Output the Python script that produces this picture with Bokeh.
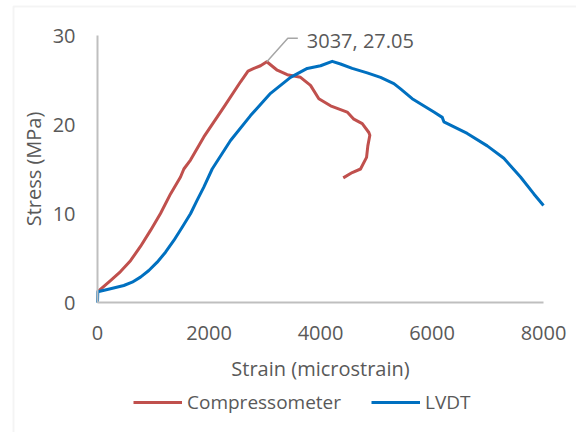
from bokeh.plotting import figure
from bokeh.models import Range1d, Legend, LegendItem, Label, FixedTicker, BoxAnnotation
from bokeh.embed import file_html
from bokeh.resources import INLINE

# ---- data ----
comp_strain = [0, 233, 413, 592, 771, 951, 1130, 1310, 1489, 1549, 1668, 1907, 2266, 2566, 2700, 2805, 2924, 3037,
               3224, 3403, 3642, 3821, 3970, 4180, 4479, 4598, 4749, 4867, 4885, 4849, 4826, 4718, 4569, 4408]
comp_stress = [1.2, 2.47, 3.48, 4.7, 6.3, 8.1, 10.0, 12.2, 14.1, 15.0, 16.0, 18.6, 21.95, 24.8, 26.0, 26.3, 26.6, 27.05,
               26.1, 25.6, 25.3, 24.4, 22.9, 22.1, 21.4, 20.6, 20.1, 19.1, 18.8, 17.6, 16.3, 15.0, 14.6, 14.0]

lvdt_strain = [0, 5, 233, 472, 622, 771, 921, 1071, 1220, 1369, 1519, 1668, 1788, 1907, 2057, 2386, 2745, 3104,
               3462, 3762, 4001, 4210, 4359, 4569, 4838, 5077, 5316, 5436, 5645, 6034, 6184, 6213, 6632, 6991,
               7289, 7588, 7827, 8000]
lvdt_stress = [0.0, 1.2, 1.54, 1.91, 2.28, 2.85, 3.6, 4.53, 5.65, 6.97, 8.46, 9.97, 11.5, 12.96, 15.0, 18.2, 21.0, 23.5,
               25.3, 26.3, 26.6, 27.1, 26.8, 26.3, 25.8, 25.3, 24.6, 24.0, 22.9, 21.4, 20.8, 20.3, 19.0, 17.6,
               16.2, 14.1, 12.2, 10.9]

x_ticks = [0, 2000, 4000, 6000, 8000]
y_ticks = [0, 10, 20, 30]
x_lim = (0, 8000)
y_lim = (0, 30)
series_names = ["Compressometer", "LVDT"]

# ---- layout (pixels) ----
TXT = "#595959"
FONT = "Open Sans"
W, H = 576, 432
PX0, PX1 = 97, 543      # screen x of x_lim
PY0, PY1 = 302, 35      # screen y of y_lim
kx = (x_lim[1] - x_lim[0]) / (PX1 - PX0)
ky = (y_lim[1] - y_lim[0]) / (PY0 - PY1)

p = figure(width=W, height=H, output_backend="svg", toolbar_location=None,
           x_range=Range1d(x_lim[0] - PX0 * kx, x_lim[0] + (W - PX0) * kx),
           y_range=Range1d(y_lim[0] - (H - PY0) * ky, y_lim[0] + PY0 * ky),
           min_border_left=0, min_border_right=0, min_border_top=0, min_border_bottom=0)
p.outline_line_color = None
p.grid.visible = False
p.background_fill_color = "white"
p.border_fill_color = "white"

# chart-area border (left and top visible, the rest is cut by the picture)
p.add_layout(BoxAnnotation(left=13, right=3000, top=6, bottom=3000,
                           left_units="canvas", right_units="canvas",
                           top_units="canvas", bottom_units="canvas",
                           fill_alpha=0, line_color="#d9d9d9", line_width=2))

r1 = p.line(comp_strain, comp_stress, line_color="#c0504d", line_width=3, line_join="round")
r2 = p.line(lvdt_strain, lvdt_stress, line_color="#0070c0", line_width=3, line_join="round")

for ax in (p.xaxis[0], p.yaxis[0]):
    ax.axis_line_color = "#bfbfbf"
    ax.axis_line_width = 2
    ax.major_tick_line_color = None
    ax.minor_tick_line_color = None
    ax.major_label_text_color = TXT
    ax.major_label_text_font = FONT
    ax.major_label_text_font_size = "20px"
    ax.axis_label_text_color = TXT
    ax.axis_label_text_font = FONT
    ax.axis_label_text_font_size = "20px"
    ax.axis_label_text_font_style = "normal"

p.xaxis.fixed_location = y_lim[0]
p.yaxis.fixed_location = x_lim[0]
p.xaxis.bounds = x_lim
p.yaxis.bounds = y_lim
p.xaxis.ticker = FixedTicker(ticks=x_ticks)
p.yaxis.ticker = FixedTicker(ticks=y_ticks)
p.xaxis.axis_label = "Strain (microstrain)"
p.yaxis.axis_label = "Stress (MPa)"
p.xaxis.major_label_standoff = 17
p.yaxis.major_label_standoff = 16
p.xaxis.axis_label_standoff = 12
p.yaxis.axis_label_standoff = 3

# ---- peak annotation ----
i_pk = comp_stress.index(max(comp_stress))
pk_x, pk_y = comp_strain[i_pk], comp_stress[i_pk]
lx = [pk_x, pk_x + 21 * kx, pk_x + 31 * kx]
ly = [pk_y, pk_y + 23.5 * ky, pk_y + 23.5 * ky]
p.line(lx, ly, line_color="#a6a6a6", line_width=1.5)
p.add_layout(Label(x=pk_x, y=pk_y, x_offset=40, y_offset=21.5, text=f"{pk_x}, {pk_y:.2f}",
                   text_font=FONT, text_font_size="20px", text_color=TXT,
                   text_align="left", text_baseline="middle"))

# ---- legend ----
legend = Legend(items=[LegendItem(label=series_names[0], renderers=[r1]),
                       LegendItem(label=series_names[1], renderers=[r2])],
                orientation="horizontal", location=(133, 17),
                border_line_color=None, background_fill_alpha=0,
                padding=0, margin=0, spacing=30, glyph_width=49, glyph_height=20,
                label_standoff=5, label_text_font=FONT, label_text_font_size="19px",
                label_text_color=TXT)
p.add_layout(legend, "center")

open("out.html", "w").write(file_html(p, INLINE))
